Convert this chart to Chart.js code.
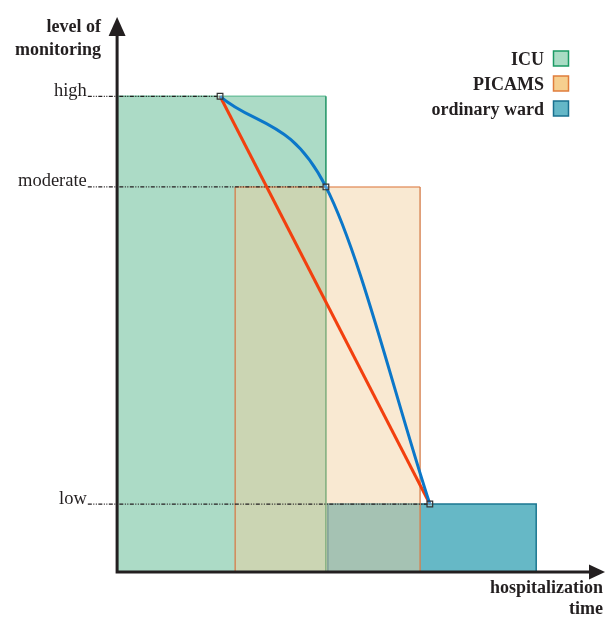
<!DOCTYPE html>
<html>
<head>
<meta charset="utf-8">
<script src="https://cdn.jsdelivr.net/npm/chart.js@4.4.1/dist/chart.umd.min.js"></script>
<style>
html, body { margin: 0; padding: 0; background: #fff; }
canvas { display: block; }
</style>
</head>
<body>
<canvas id="chart" width="605" height="617"></canvas>
<script>
// level of monitoring (y) against hospitalization time (x), arbitrary units
var levelNames = ['low', 'moderate', 'high'];
var levelValues = [1.5, 8.5, 10.5];

// care settings, drawn as boxes from time start to end up to their level
var wardNames = ['ICU', 'PICAMS', 'ordinary ward'];
var wardStart = [0, 24.2, 43.2];
var wardEnd = [42.8, 62.1, 85.9];
var wardLevel = [10.5, 8.5, 1.5];

// patient path high -> moderate -> low
var pathTime = [21.1, 42.8, 64.1];
var pathLevel = [10.5, 8.5, 1.5];

var ink = '#231f20';
var serif = '"Liberation Serif", "Times New Roman", serif';

// fill / border per ward, and the opaque version used in the legend
var wardFill = ['#acdbc6', 'rgba(242,207,156,0.45)', '#66b8c6'];
var wardEdge = ['#1f9464', 'rgba(214,128,78,0.9)', '#1b7791'];
var wardTopEdge = ['#74c3a1', 'rgba(224,140,90,0.85)', '#1b7791'];
var legendFill = ['#a9dcc4', '#f6cf8f', '#64b7c7'];
var legendEdge = ['#1b9a64', '#e07d3c', '#19708f'];
var wardOrder = [6, 4, 5];

function pts(xs, ys) {
	return xs.map(function (x, i) { return { x: x, y: ys[i] }; });
}

function box(i) {
	return pts([wardStart[i], wardStart[i], wardEnd[i], wardEnd[i]], [0, wardLevel[i], wardLevel[i], 0]);
}

var datasets = [];

// the ward boxes
wardNames.forEach(function (name, i) {
	datasets.push({
		label: name,
		data: box(i),
		fill: 'origin',
		backgroundColor: wardFill[i],
		borderColor: wardEdge[i],
		borderWidth: 1.5,
		pointRadius: 0,
		tension: 0,
		order: wardOrder[i],
		segment: {
			borderColor: function (ctx) {
				return ctx.p0.parsed.x === ctx.p1.parsed.x ? wardEdge[i] : wardTopEdge[i];
			}
		}
	});
});

// dotted guide from each level label to where the path reaches it
levelValues.forEach(function (v, i) {
	var k = pathLevel.indexOf(v);
	datasets.push({
		label: 'guide ' + levelNames[i],
		data: pts([-6, pathTime[k]], [v, v]),
		borderColor: ink,
		borderWidth: 1.3,
		borderDash: [4, 1.5, 1, 1.5, 1, 1.5],
		pointRadius: 0,
		fill: false,
		order: 3
	});
});

// direct step down (red) and the real curve (blue)
datasets.push({
	label: 'direct',
	data: pts([pathTime[0], pathTime[2]], [pathLevel[0], pathLevel[2]]),
	borderColor: '#f2400f',
	borderWidth: 3,
	pointRadius: 0,
	fill: false,
	order: 2
});
datasets.push({
	label: 'path',
	data: pts(pathTime, pathLevel),
	borderColor: '#0b77c9',
	borderWidth: 3,
	cubicInterpolationMode: 'monotone',
	pointRadius: 0,
	fill: false,
	order: 1
});
datasets.push({
	label: 'markers',
	data: pts(pathTime, pathLevel),
	showLine: false,
	pointStyle: 'rect',
	pointRadius: 4,
	pointBorderWidth: 1.2,
	pointBorderColor: '#333',
	pointBackgroundColor: 'rgba(255,255,255,0.25)',
	order: 0
});

// axes with arrows, labels and the legend
var decor = {
	id: 'decor',
	afterDatasetsDraw: function (chart) {
		var c = chart.ctx, xs = chart.scales.x, ys = chart.scales.y, a = chart.chartArea;
		var x0 = xs.getPixelForValue(0), y0 = ys.getPixelForValue(0);
		c.save();
		c.strokeStyle = ink;
		c.fillStyle = ink;
		c.lineWidth = 3;
		c.beginPath();
		c.moveTo(x0, y0 + 1.5);
		c.lineTo(x0, a.top + 15);
		c.moveTo(x0 - 1.5, y0);
		c.lineTo(a.right - 12, y0);
		c.stroke();
		// arrow heads
		c.beginPath();
		c.moveTo(x0, a.top);
		c.lineTo(x0 + 8.5, a.top + 19);
		c.lineTo(x0 - 8.5, a.top + 19);
		c.closePath();
		c.fill();
		c.beginPath();
		c.moveTo(a.right, y0);
		c.lineTo(a.right - 16, y0 - 7.5);
		c.lineTo(a.right - 16, y0 + 7.5);
		c.closePath();
		c.fill();

		// level names sit on their guide lines
		c.font = '18.5px ' + serif;
		c.textAlign = 'right';
		c.textBaseline = 'alphabetic';
		levelValues.forEach(function (v, i) {
			c.fillText(levelNames[i], xs.getPixelForValue(-6) - 1, ys.getPixelForValue(v) - 0.5);
		});

		// axis titles
		c.font = 'bold 18px ' + serif;
		c.fillText('level of', x0 - 16, 32);
		c.fillText('monitoring', x0 - 16, 55);
		c.fillText('hospitalization', a.right - 2, 593);
		c.fillText('time', a.right - 2, 614);

		// legend
		wardNames.forEach(function (name, i) {
			var top = 51 + i * 25;
			c.fillStyle = ink;
			c.fillText(name, 544, top + 14);
			c.fillStyle = legendFill[i];
			c.fillRect(553.5, top, 15, 15);
			c.strokeStyle = legendEdge[i];
			c.lineWidth = 1.5;
			c.strokeRect(553.5, top, 15, 15);
		});
		c.restore();
	}
};

new Chart(document.getElementById('chart').getContext('2d'), {
	type: 'line',
	data: { datasets: datasets },
	options: {
		responsive: false,
		animation: false,
		layout: { autoPadding: false, padding: { left: 0, right: 0, top: 17, bottom: 45 } },
		scales: {
			x: { type: 'linear', min: -24, max: 100, display: false },
			y: { type: 'linear', min: 0, max: 12.25, display: false }
		},
		plugins: {
			legend: { display: false },
			tooltip: { enabled: false }
		}
	},
	plugins: [decor]
});
</script>
</body>
</html>
